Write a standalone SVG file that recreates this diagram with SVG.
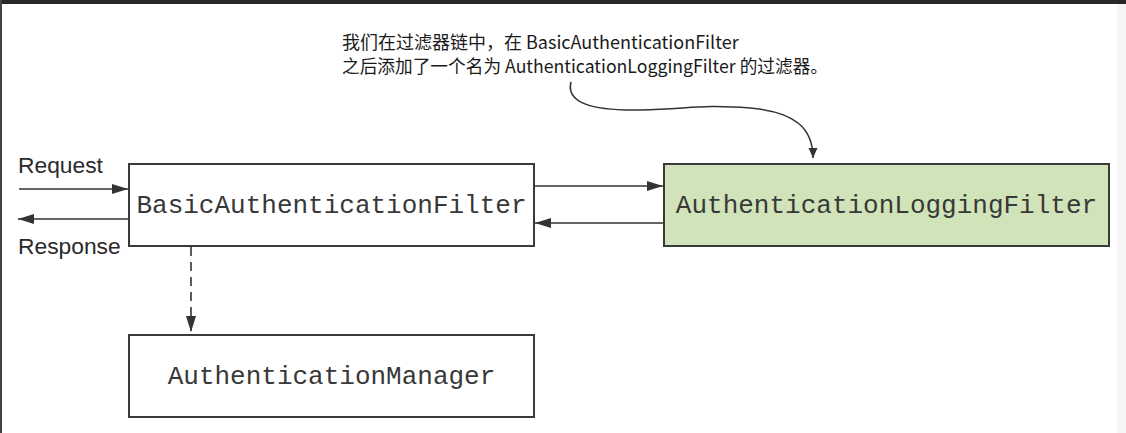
<svg xmlns="http://www.w3.org/2000/svg" width="1126" height="433" viewBox="0 0 1126 433">
<style>
.box{fill:#ffffff;stroke:#3a3a3a;stroke-width:2}
.green{fill:#d0e3b9;stroke:#3a3a3a;stroke-width:2}
.mono{font-family:"Liberation Mono","Courier New",monospace;font-size:26px;fill:#383838;text-anchor:middle}
.lbl{font-family:"Liberation Sans",Arial,sans-serif;font-size:22.8px;fill:#2a2a2a}
.note{font-family:"Noto Sans CJK SC","Noto Sans",sans-serif;font-size:18px;fill:#1a1a1a}
.ln{stroke:#333;stroke-width:1.6;fill:none}
</style>
<defs>
<marker id="ah" viewBox="0 0 16 10" refX="16" refY="5" markerWidth="16" markerHeight="10" markerUnits="userSpaceOnUse" orient="auto">
<path d="M0,0 L16,5 L0,10 Z" fill="#333"/>
</marker>
<marker id="ahs" viewBox="0 0 10 10" refX="10" refY="5" markerWidth="10" markerHeight="10" markerUnits="userSpaceOnUse" orient="auto">
<path d="M0,0.5 L10,5 L0,9.5 Z" fill="#333"/>
</marker>
</defs>
<rect x="0" y="0" width="1126" height="433" fill="#ffffff"/>
<rect x="1117" y="0" width="9" height="433" fill="#f5f5f5"/>
<rect x="0" y="0" width="1126" height="4" fill="#2b2629"/>
<rect x="0" y="0" width="2" height="433" fill="#444"/>

<g id="note">
<text class="note" x="342" y="49">我们在过滤器链中，在 BasicAuthenticationFilter</text>
<text class="note" x="342" y="73" textLength="486" lengthAdjust="spacingAndGlyphs">之后添加了一个名为 AuthenticationLoggingFilter 的过滤器。</text>
</g>

<g id="basic-filter">
<rect class="box" x="129" y="164" width="405" height="82"/>
<text class="mono" x="331.5" y="213">BasicAuthenticationFilter</text>
</g>
<g id="logging-filter">
<rect class="green" x="664" y="164" width="445" height="82"/>
<text class="mono" x="886.5" y="213">AuthenticationLoggingFilter</text>
</g>
<g id="auth-manager">
<rect class="box" x="129" y="335" width="405" height="82"/>
<text class="mono" x="331.5" y="384">AuthenticationManager</text>
</g>

<g id="labels">
<text class="lbl" x="18" y="173">Request</text>
<text class="lbl" x="18" y="254">Response</text>
</g>

<g id="connectors">
<line class="ln" x1="19" y1="189" x2="128" y2="189" marker-end="url(#ah)"/>
<line class="ln" x1="128" y1="219" x2="18" y2="219" marker-end="url(#ah)"/>
<line class="ln" x1="535" y1="186" x2="663" y2="186" marker-end="url(#ah)"/>
<line class="ln" x1="663" y1="223" x2="535" y2="223" marker-end="url(#ah)"/>
<line class="ln" x1="191" y1="247" x2="191" y2="332" stroke-dasharray="9 6" marker-end="url(#ah)"/>
<path class="ln" d="M571,82 C566,102 590,111 640,110 C690,109 700,104 750,108 C795,112 813,128 813,158" stroke-width="1.3" marker-end="url(#ahs)"/>
</g>
</svg>
